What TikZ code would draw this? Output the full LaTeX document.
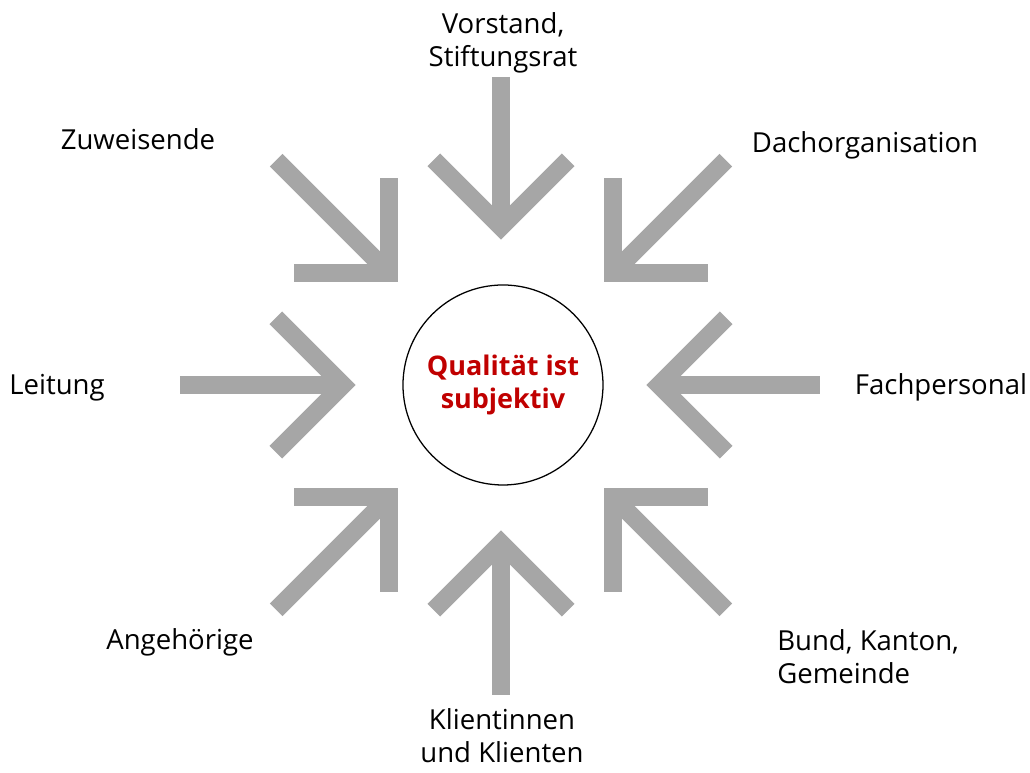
\documentclass[tikz,border=0pt]{standalone}
\usepackage{fontspec}
\setmainfont{Open Sans}
\usepackage{xcolor}
\usepackage{tikz}
\definecolor{arrowgray}{RGB}{166,166,166}
\definecolor{accent}{RGB}{192,0,0}

\begin{document}
\begin{tikzpicture}[x=0.25mm, y=0.25mm,
  shaft/.style={draw=arrowgray, line width=4.5mm},
  head/.style={draw=arrowgray, line width=4.5mm, line join=miter},
  lbl/.style={font=\fontsize{19.6}{23.5}\selectfont, inner sep=0pt, align=center},
  core/.style={draw, circle, line width=0.9pt, minimum size=50mm, align=center,
               font=\fontsize{19.2}{23.5}\selectfont\bfseries, text=accent}
]
  \useasboundingbox (-501,-388) rectangle (529,385);
  \node[core] (q) at (2,0) {Qualität ist\\subjektiv};
  \foreach \ang/\len/\nm in {90/308/vor,45/318/dach,0/319/fach,-45/318/bund,
                             -90/310/kli,-135/318/ang,180/321/lei,135/318/zuw}{
    \coordinate (\nm-tail) at (\ang:\len);
    \coordinate (\nm-tip) at (\ang:158);
    \draw[shaft] (\nm-tail) -- (\nm-tip);
    \draw[head] ([shift={(\ang+45:95)}]\nm-tip) -- (\nm-tip) -- ([shift={(\ang-45:95)}]\nm-tip);
  }
  \node[lbl, anchor=north] (vorstand) at (2,373) {Vorstand,\\Stiftungsrat};
  \node[lbl, anchor=base] (zuweisende) at (-363,235) {Zuweisende};
  \node[lbl, anchor=base] (dach) at (364,232) {Dachorganisation};
  \node[lbl, anchor=base] (leitung) at (-444,-10) {Leitung};
  \node[lbl, anchor=base] (fach) at (440,-10) {Fachpersonal};
  \node[lbl, anchor=base] (angeh) at (-321,-265) {Angehörige};
  \node[lbl, anchor=north west, align=left] (bund) at (276,-244) {Bund, Kanton,\\Gemeinde};
  \node[lbl, anchor=north] (klienten) at (1,-323) {Klientinnen\\und Klienten};
\end{tikzpicture}
\end{document}
